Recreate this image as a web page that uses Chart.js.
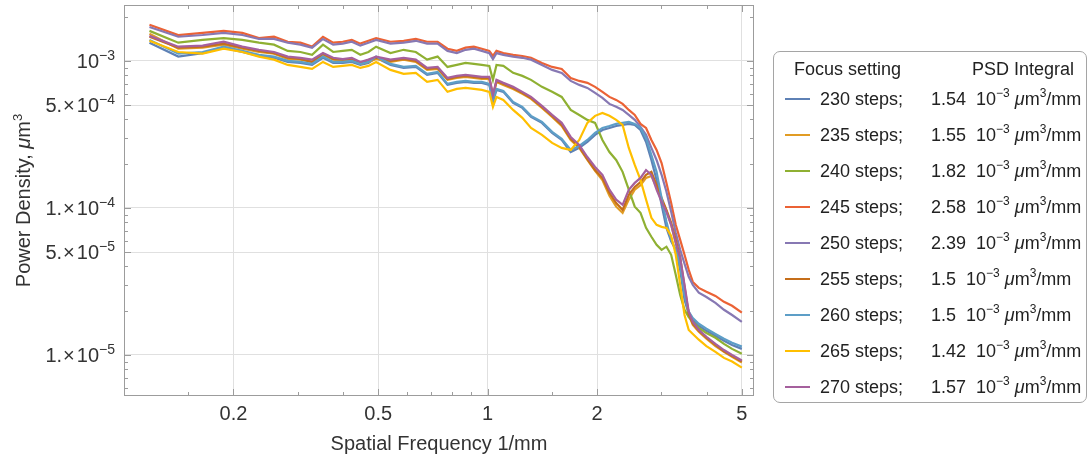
<!DOCTYPE html>
<html lang="en">
<head>
  <meta charset="UTF-8">
  <title>Power spectral density vs focus setting</title>
  <script src="https://cdn.jsdelivr.net/npm/chart.js"></script>
  <style>
    html, body { margin: 0; padding: 0; background: #fff; }
    body {
      width: 1090px; height: 459px; position: relative; overflow: hidden;
      font-family: "Liberation Sans", Arial, sans-serif;
    }
    #psd-chart { position: absolute; left: 0; top: 0; }
    .legend {
      position: absolute; left: 773px; top: 51px; width: 312px; height: 350px;
      border: 1px solid #a5a5a5; border-radius: 7px;
      font-size: 18px; color: #222;
    }
    .legend .row { position: absolute; left: 0; right: 0; height: 36px; line-height: 36px; white-space: nowrap; }
    .legend .head { top: 0; height: 34px; line-height: 34px; }
    .swatch { position: absolute; left: 11px; top: 17px; width: 25px; height: 2px; }
    .steps { position: absolute; left: 46px; }
    .val { position: absolute; left: 157px; }
    .legend sup { font-size: 12px; vertical-align: baseline; position: relative; top: -8px; }
  </style>
</head>
<body>
  <canvas id="psd-chart" width="1090" height="459"></canvas>
  <div class="legend" id="legend">
    <div class="row head"><span style="position:absolute;left:20px">Focus setting</span><span style="position:absolute;left:198px">PSD Integral</span></div>
  </div>

  <script>
    // spatial frequency samples, 1/mm
    const freqs = [0.1175, 0.141, 0.1645, 0.188, 0.2115, 0.235, 0.2585, 0.282, 0.3055, 0.329,
      0.3525, 0.376, 0.3995, 0.423, 0.4465, 0.47, 0.4935, 0.5405, 0.5875, 0.6345,
      0.6815, 0.7285, 0.7755, 0.8225, 0.8695, 0.9165, 0.9635, 1.0105, 1.034, 1.0575,
      1.1045, 1.175, 1.2455, 1.316, 1.41, 1.504, 1.598, 1.692, 1.786, 1.88,
      1.974, 2.068, 2.162, 2.256, 2.35, 2.444, 2.538, 2.632, 2.726, 2.82,
      2.914, 3.008, 3.102, 3.196, 3.29, 3.384, 3.478, 3.572, 3.666, 3.807,
      3.995, 4.23, 4.465, 4.7, 5.0];

    // power density, um^3, one array per focus setting
    const psd230 = [1.33e-3, 1.07e-3, 1.13e-3, 1.23e-3, 1.15e-3, 1.08e-3, 1.05e-3, 9.84e-4, 9.69e-4, 9.39e-4,
      1.05e-3, 9.69e-4, 9.69e-4, 9.84e-4, 9.39e-4, 9.69e-4, 1.05e-3, 9.39e-4, 8.96e-4, 9.10e-4,
      8.03e-4, 8.29e-4, 6.87e-4, 7.09e-4, 7.20e-4, 7.09e-4, 7.09e-4, 6.87e-4, 5.26e-4, 6.35e-4,
      6.16e-4, 5.18e-4, 4.79e-4, 4.16e-4, 3.79e-4, 3.24e-4, 2.90e-4, 2.40e-4, 2.56e-4, 2.81e-4,
      3.14e-4, 3.39e-4, 3.50e-4, 3.61e-4, 3.67e-4, 3.73e-4, 3.67e-4, 3.39e-4, 2.81e-4, 2.12e-4,
      1.55e-4, 1.05e-4, 7.32e-5, 5.93e-5, 5.19e-5, 3.79e-5, 2.37e-5, 1.90e-5, 1.73e-5, 1.58e-5,
      1.46e-5, 1.35e-5, 1.25e-5, 1.17e-5, 1.10e-5];
    const psd235 = [1.53e-3, 1.21e-3, 1.23e-3, 1.29e-3, 1.21e-3, 1.15e-3, 1.12e-3, 1.03e-3, 1.02e-3, 9.84e-4,
      1.10e-3, 1.02e-3, 1.00e-3, 1.02e-3, 9.54e-4, 9.84e-4, 1.03e-3, 9.84e-4, 1.02e-3, 9.84e-4,
      8.69e-4, 8.82e-4, 7.43e-4, 7.66e-4, 7.78e-4, 7.66e-4, 7.54e-4, 7.54e-4, 5.69e-4, 7.20e-4,
      6.87e-4, 6.45e-4, 5.97e-4, 5.52e-4, 4.79e-4, 4.16e-4, 3.61e-4, 2.90e-4, 2.56e-4, 2.12e-4,
      1.79e-4, 1.55e-4, 1.21e-4, 1.02e-4, 9.27e-5, 1.14e-4, 1.33e-4, 1.43e-4, 1.60e-4, 1.65e-4,
      1.39e-4, 1.14e-4, 9.56e-5, 7.68e-5, 5.80e-5, 4.31e-5, 2.77e-5, 1.87e-5, 1.60e-5, 1.44e-5,
      1.29e-5, 1.15e-5, 1.05e-5, 9.70e-6, 8.90e-6];
    const psd240 = [1.60e-3, 1.33e-3, 1.39e-3, 1.43e-3, 1.39e-3, 1.33e-3, 1.29e-3, 1.17e-3, 1.15e-3, 1.10e-3,
      1.29e-3, 1.15e-3, 1.17e-3, 1.19e-3, 1.10e-3, 1.15e-3, 1.25e-3, 1.13e-3, 1.19e-3, 1.15e-3,
      1.02e-3, 1.07e-3, 9.10e-4, 9.39e-4, 9.69e-4, 9.54e-4, 9.39e-4, 9.25e-4, 7.43e-4, 9.39e-4,
      9.25e-4, 8.29e-4, 7.91e-4, 7.43e-4, 6.66e-4, 6.16e-4, 5.69e-4, 4.64e-4, 4.29e-4, 3.97e-4,
      3.79e-4, 2.90e-4, 2.40e-4, 2.12e-4, 1.76e-4, 1.33e-4, 1.02e-4, 9.27e-5, 7.32e-5, 6.37e-5,
      5.61e-5, 5.19e-5, 5.45e-5, 4.80e-5, 3.51e-5, 2.56e-5, 2.03e-5, 1.81e-5, 1.68e-5, 1.53e-5,
      1.41e-5, 1.31e-5, 1.19e-5, 1.10e-5, 1.02e-5];
    const psd245 = [1.76e-3, 1.50e-3, 1.55e-3, 1.60e-3, 1.55e-3, 1.43e-3, 1.46e-3, 1.35e-3, 1.33e-3, 1.25e-3,
      1.46e-3, 1.33e-3, 1.35e-3, 1.39e-3, 1.31e-3, 1.37e-3, 1.43e-3, 1.35e-3, 1.37e-3, 1.41e-3,
      1.35e-3, 1.35e-3, 1.21e-3, 1.17e-3, 1.23e-3, 1.25e-3, 1.21e-3, 1.17e-3, 1.08e-3, 1.17e-3,
      1.13e-3, 1.10e-3, 1.08e-3, 1.05e-3, 9.69e-4, 9.10e-4, 8.82e-4, 7.66e-4, 7.31e-4, 7.09e-4,
      6.66e-4, 6.16e-4, 5.69e-4, 5.43e-4, 5.10e-4, 4.64e-4, 4.29e-4, 3.73e-4, 3.50e-4, 2.90e-4,
      2.48e-4, 2.02e-4, 1.48e-4, 1.08e-4, 7.68e-5, 6.07e-5, 4.80e-5, 3.79e-5, 3.14e-5, 2.86e-5,
      2.69e-5, 2.52e-5, 2.30e-5, 2.16e-5, 1.94e-5];
    const psd250 = [1.70e-3, 1.46e-3, 1.50e-3, 1.55e-3, 1.50e-3, 1.41e-3, 1.41e-3, 1.33e-3, 1.29e-3, 1.23e-3,
      1.41e-3, 1.29e-3, 1.31e-3, 1.35e-3, 1.27e-3, 1.33e-3, 1.39e-3, 1.31e-3, 1.33e-3, 1.37e-3,
      1.31e-3, 1.31e-3, 1.17e-3, 1.13e-3, 1.19e-3, 1.21e-3, 1.17e-3, 1.13e-3, 1.03e-3, 1.13e-3,
      1.10e-3, 1.07e-3, 1.05e-3, 1.02e-3, 9.39e-4, 8.69e-4, 8.29e-4, 7.31e-4, 6.87e-4, 6.55e-4,
      6.06e-4, 5.60e-4, 5.10e-4, 4.87e-4, 4.64e-4, 4.29e-4, 3.97e-4, 3.56e-4, 3.14e-4, 2.56e-4,
      2.12e-4, 1.68e-4, 1.29e-4, 9.41e-5, 6.77e-5, 5.19e-5, 4.17e-5, 3.40e-5, 3.00e-5, 2.65e-5,
      2.48e-5, 2.26e-5, 2.03e-5, 1.87e-5, 1.68e-5];
    const psd255 = [1.46e-3, 1.23e-3, 1.25e-3, 1.31e-3, 1.23e-3, 1.17e-3, 1.13e-3, 1.05e-3, 1.03e-3, 9.84e-4,
      1.12e-3, 1.03e-3, 1.02e-3, 1.03e-3, 9.69e-4, 1.00e-3, 1.05e-3, 1.00e-3, 1.03e-3, 1.00e-3,
      8.82e-4, 8.96e-4, 7.54e-4, 7.78e-4, 7.91e-4, 7.78e-4, 7.66e-4, 7.66e-4, 5.78e-4, 7.31e-4,
      6.98e-4, 6.55e-4, 6.06e-4, 5.60e-4, 4.87e-4, 4.23e-4, 3.67e-4, 2.95e-4, 2.60e-4, 2.15e-4,
      1.81e-4, 1.60e-4, 1.27e-4, 1.08e-4, 9.71e-5, 1.23e-4, 1.39e-4, 1.50e-4, 1.68e-4, 1.76e-4,
      1.43e-4, 1.17e-4, 9.71e-5, 7.92e-5, 6.07e-5, 4.58e-5, 2.91e-5, 1.90e-5, 1.63e-5, 1.46e-5,
      1.31e-5, 1.17e-5, 1.06e-5, 9.85e-6, 9.02e-6];
    const psd260 = [1.39e-3, 1.12e-3, 1.15e-3, 1.25e-3, 1.17e-3, 1.10e-3, 1.07e-3, 1.00e-3, 9.84e-4, 9.54e-4,
      1.07e-3, 9.84e-4, 9.84e-4, 1.00e-3, 9.54e-4, 9.84e-4, 1.07e-3, 9.54e-4, 9.10e-4, 9.25e-4,
      8.16e-4, 8.42e-4, 6.98e-4, 7.20e-4, 7.31e-4, 7.20e-4, 7.20e-4, 6.98e-4, 5.43e-4, 6.45e-4,
      6.25e-4, 5.26e-4, 4.87e-4, 4.23e-4, 3.85e-4, 3.29e-4, 2.95e-4, 2.48e-4, 2.64e-4, 2.90e-4,
      3.24e-4, 3.50e-4, 3.61e-4, 3.73e-4, 3.79e-4, 3.85e-4, 3.73e-4, 3.50e-4, 2.99e-4, 2.29e-4,
      1.76e-4, 1.17e-4, 8.05e-5, 6.07e-5, 5.19e-5, 4.10e-5, 2.56e-5, 1.97e-5, 1.78e-5, 1.63e-5,
      1.51e-5, 1.39e-5, 1.29e-5, 1.21e-5, 1.14e-5];
    const psd265 = [1.37e-3, 1.15e-3, 1.12e-3, 1.21e-3, 1.15e-3, 1.07e-3, 1.02e-3, 9.39e-4, 9.10e-4, 8.82e-4,
      9.84e-4, 9.10e-4, 9.25e-4, 9.39e-4, 8.96e-4, 9.25e-4, 9.84e-4, 8.69e-4, 8.16e-4, 8.29e-4,
      7.20e-4, 7.43e-4, 6.16e-4, 6.45e-4, 6.55e-4, 6.45e-4, 6.35e-4, 6.16e-4, 4.87e-4, 5.69e-4,
      5.43e-4, 4.64e-4, 4.10e-4, 3.50e-4, 3.14e-4, 2.77e-4, 2.56e-4, 2.48e-4, 2.90e-4, 3.79e-4,
      4.23e-4, 4.43e-4, 4.23e-4, 3.97e-4, 3.67e-4, 2.56e-4, 1.96e-4, 1.55e-4, 1.14e-4, 8.57e-5,
      7.68e-5, 7.44e-5, 7.32e-5, 6.46e-5, 4.80e-5, 3.00e-5, 1.87e-5, 1.48e-5, 1.39e-5, 1.27e-5,
      1.15e-5, 1.05e-5, 9.55e-6, 9.02e-6, 8.20e-6];
    const psd270 = [1.48e-3, 1.25e-3, 1.27e-3, 1.35e-3, 1.25e-3, 1.19e-3, 1.15e-3, 1.07e-3, 1.05e-3, 1.02e-3,
      1.13e-3, 1.05e-3, 1.03e-3, 1.05e-3, 9.84e-4, 1.02e-3, 1.07e-3, 1.02e-3, 1.05e-3, 1.02e-3,
      8.96e-4, 9.10e-4, 7.66e-4, 7.91e-4, 8.03e-4, 7.91e-4, 7.78e-4, 7.78e-4, 5.87e-4, 7.43e-4,
      7.09e-4, 6.66e-4, 6.16e-4, 5.69e-4, 4.94e-4, 4.29e-4, 3.79e-4, 3.04e-4, 2.68e-4, 2.22e-4,
      1.90e-4, 1.68e-4, 1.33e-4, 1.14e-4, 1.05e-4, 1.33e-4, 1.48e-4, 1.60e-4, 1.81e-4, 1.68e-4,
      1.33e-4, 1.10e-4, 9.41e-5, 7.68e-5, 5.80e-5, 4.58e-5, 3.00e-5, 1.97e-5, 1.68e-5, 1.48e-5,
      1.33e-5, 1.19e-5, 1.08e-5, 1.00e-5, 9.16e-6];

    const focusSteps = [230, 235, 240, 245, 250, 255, 260, 265, 270];
    const psdIntegral = ['1.54', '1.55', '1.82', '2.58', '2.39', '1.5', '1.5', '1.42', '1.57'];
    const series = [psd230, psd235, psd240, psd245, psd250, psd255, psd260, psd265, psd270];
    const colors = ['#5E81B5', '#E19C24', '#8FB032', '#EB6235', '#8778B3', '#C56E1A', '#5D9EC7', '#FFBF00', '#A5609D'];

    // axis ticks
    const xTicks = [0.2, 0.5, 1, 2, 5];
    const xMinor = [0.15, 0.3, 0.4, 0.6, 0.7, 0.8, 0.9, 1.5, 3, 4];
    const yTicks = [1e-5, 5e-5, 1e-4, 5e-4, 1e-3];
    const yTickText = [['1.', '\u22125'], ['5.', '\u22125'], ['1.', '\u22124'], ['5.', '\u22124'], ['', '\u22123']];
    const yMinor = [6e-6, 7e-6, 8e-6, 9e-6, 2e-5, 3e-5, 4e-5, 6e-5, 7e-5, 8e-5, 9e-5,
      2e-4, 3e-4, 4e-4, 6e-4, 7e-4, 8e-4, 9e-4, 2e-3];

    const FONT = '"Liberation Sans", Arial, sans-serif';
    Chart.defaults.font.family = FONT;

    // frame, inward ticks, y labels with superscripts, axis titles
    const framePlugin = {
      id: 'frame',
      afterDraw(chart) {
        const { ctx, chartArea: a, scales: { x, y } } = chart;
        ctx.save();
        ctx.strokeStyle = '#9c9c9c';
        ctx.lineWidth = 1;
        ctx.strokeRect(a.left + 0.5, a.top + 0.5, a.right - a.left - 1, a.bottom - a.top - 1);

        const seg = (x1, y1, x2, y2) => { ctx.beginPath(); ctx.moveTo(x1, y1); ctx.lineTo(x2, y2); ctx.stroke(); };
        const xt = (v, len) => {
          const p = Math.round(x.getPixelForValue(v)) + 0.5;
          seg(p, a.bottom, p, a.bottom - len);
          seg(p, a.top, p, a.top + len);
        };
        const yt = (v, len) => {
          const p = Math.round(y.getPixelForValue(v)) + 0.5;
          seg(a.left, p, a.left + len, p);
          seg(a.right, p, a.right - len, p);
        };
        xTicks.forEach(v => xt(v, 7));
        xMinor.forEach(v => xt(v, 4));
        yTicks.forEach(v => yt(v, 7));
        yMinor.forEach(v => yt(v, 4));

        // y tick labels
        ctx.fillStyle = '#333';
        ctx.textAlign = 'left';
        ctx.textBaseline = 'alphabetic';
        yTicks.forEach((v, k) => {
          const py = y.getPixelForValue(v);
          const [mant, ex] = yTickText[k];
          const base = py + 7;
          let xr = a.left - 9;
          ctx.font = '14px ' + FONT;
          xr -= ctx.measureText(ex).width;
          ctx.fillText(ex, xr, base - 8);
          ctx.font = '20px ' + FONT;
          xr -= ctx.measureText('10').width;
          ctx.fillText('10', xr, base);
          if (mant) {
            xr -= ctx.measureText('\u00d7').width + 2;
            ctx.fillText('\u00d7', xr, base);
            xr -= ctx.measureText(mant).width + 1;
            ctx.fillText(mant, xr, base);
          }
        });

        // x title
        ctx.font = '20px ' + FONT;
        ctx.textAlign = 'center';
        ctx.fillText('Spatial Frequency 1/mm', (a.left + a.right) / 2, 450);

        // y title, rotated
        const parts = [
          ['Power Density, ', '20px ' + FONT, 0],
          ['\u03bc', 'italic 20px ' + FONT, 0],
          ['m', '20px ' + FONT, 0],
          ['3', '13px ' + FONT, -8]
        ];
        let total = 0;
        parts.forEach(p => { ctx.font = p[1]; total += ctx.measureText(p[0]).width; });
        ctx.translate(23, (a.top + a.bottom) / 2);
        ctx.rotate(-Math.PI / 2);
        ctx.textAlign = 'left';
        let cx = -total / 2;
        parts.forEach(p => {
          ctx.font = p[1];
          ctx.fillText(p[0], cx, 7 + p[2]);
          cx += ctx.measureText(p[0]).width;
        });
        ctx.restore();
      }
    };

    const datasets = series.map((s, i) => ({
      label: focusSteps[i] + ' steps',
      data: freqs.map((f, j) => ({ x: f, y: s[j] })),
      borderColor: colors[i],
      backgroundColor: colors[i],
      borderWidth: 2.2,
      pointRadius: 0,
      tension: 0,
      fill: false,
      order: -i
    }));

    const psdChart = new Chart(document.getElementById('psd-chart'), {
      type: 'line',
      data: { datasets },
      options: {
        responsive: false,
        animation: false,
        layout: { padding: { left: 0, right: 336, top: 5, bottom: 0 } },
        plugins: { legend: { display: false }, tooltip: { enabled: false } },
        scales: {
          x: {
            type: 'logarithmic',
            min: 0.1,
            max: 5.4,
            afterBuildTicks: s => { s.ticks = xTicks.map(v => ({ value: v })); },
            afterFit: s => { s.height = 63; s.paddingLeft = 0; s.paddingRight = 0; },
            border: { display: false },
            grid: { color: '#e0e0e0', drawTicks: false },
            ticks: {
              autoSkip: false, maxRotation: 0, padding: 6,
              color: '#333', font: { size: 20 },
              callback: v => String(v)
            }
          },
          y: {
            type: 'logarithmic',
            min: 5.26e-6,
            max: 2.4e-3,
            afterBuildTicks: s => { s.ticks = yTicks.map(v => ({ value: v })); },
            afterFit: s => { s.width = 124; s.paddingTop = 0; s.paddingBottom = 0; },
            border: { display: false },
            grid: { color: '#e0e0e0', drawTicks: false },
            ticks: { callback: () => '' }
          }
        }
      },
      plugins: [framePlugin]
    });

    // legend with superscripts, built from the chart datasets
    const legend = document.getElementById('legend');
    psdChart.data.datasets.forEach((ds, i) => {
      const row = document.createElement('div');
      row.className = 'row';
      row.style.top = (29 + 36 * i) + 'px';
      row.innerHTML =
        '<span class="swatch" style="background:' + ds.borderColor + '"></span>' +
        '<span class="steps">' + focusSteps[i] + ' steps;</span>' +
        '<span class="val">' + psdIntegral[i] + '&nbsp;&nbsp;10<sup>\u22123</sup> <i>\u03bc</i>m<sup>3</sup>/mm</span>';
      legend.appendChild(row);
    });
  </script>
</body>
</html>
